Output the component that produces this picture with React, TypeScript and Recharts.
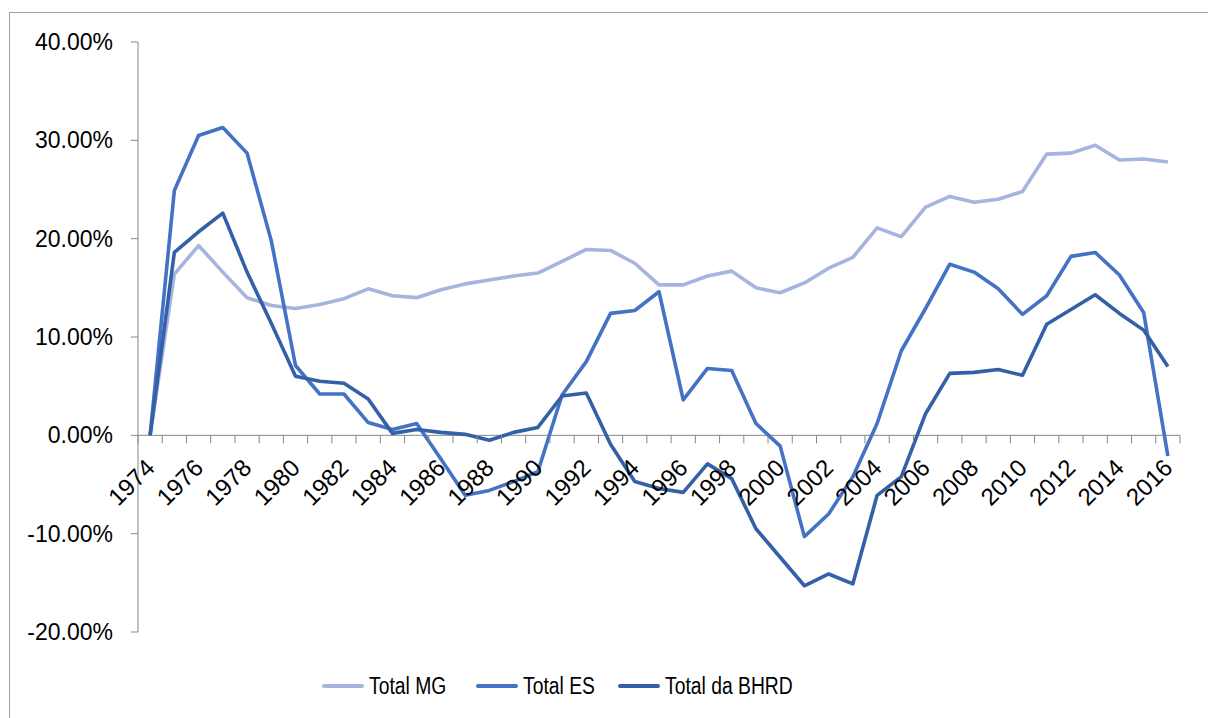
import { Line, LineChart, ReferenceLine, XAxis, YAxis } from "recharts";

const years = [
  "1974", "1975", "1976", "1977", "1978", "1979", "1980", "1981", "1982", "1983",
  "1984", "1985", "1986", "1987", "1988", "1989", "1990", "1991", "1992", "1993",
  "1994", "1995", "1996", "1997", "1998", "1999", "2000", "2001", "2002", "2003",
  "2004", "2005", "2006", "2007", "2008", "2009", "2010", "2011", "2012", "2013",
  "2014", "2015", "2016",
];

const totalMG = [
  0, 16.4, 19.3, 16.6, 14.0, 13.2, 12.9, 13.3, 13.9, 14.9, 14.2, 14.0, 14.8, 15.4, 15.8,
  16.2, 16.5, 17.7, 18.9, 18.8, 17.5, 15.3, 15.3, 16.2, 16.7, 15.0, 14.5, 15.5, 17.0,
  18.1, 21.1, 20.2, 23.2, 24.3, 23.7, 24.0, 24.8, 28.6, 28.7, 29.5, 28.0, 28.1, 27.8,
];

const totalES = [
  0, 24.9, 30.5, 31.3, 28.7, 19.8, 7.1, 4.2, 4.2, 1.3, 0.6, 1.2, -2.4, -6.1, -5.6,
  -4.7, -3.7, 4.1, 7.5, 12.4, 12.7, 14.6, 3.6, 6.8, 6.6, 1.2, -1.1, -10.3, -8.0,
  -4.2, 1.2, 8.6, 12.9, 17.4, 16.6, 14.9, 12.3, 14.2, 18.2, 18.6, 16.3, 12.5, -2.1,
];

const totalBHRD = [
  0, 18.6, 20.7, 22.6, 16.6, 11.4, 6.0, 5.5, 5.3, 3.7, 0.2, 0.6, 0.3, 0.1, -0.5,
  0.3, 0.8, 4.0, 4.3, -0.9, -4.7, -5.4, -5.8, -2.9, -4.4, -9.5, -12.4, -15.3, -14.1,
  -15.1, -6.1, -4.2, 2.2, 6.3, 6.4, 6.7, 6.1, 11.3, 12.8, 14.3, 12.4, 10.7, 7.0,
];

const yTicks = [-20, -10, 0, 10, 20, 30, 40];

const data = years.map((year, i) => ({
  year,
  mg: totalMG[i],
  es: totalES[i],
  bhrd: totalBHRD[i],
}));

// layout
const W = 1208;
const H = 718;
const PLOT_LEFT = 138;
const PLOT_RIGHT = 1180;
const PLOT_TOP = 42;
const PLOT_BOTTOM = 632;
const PLOT_W = PLOT_RIGHT - PLOT_LEFT;
const PLOT_H = PLOT_BOTTOM - PLOT_TOP;
const BAND = PLOT_W / years.length;
const Y_MIN = -20;
const Y_MAX = 40;
const ZERO_OFFSET = (PLOT_H * (0 - Y_MIN)) / (Y_MAX - Y_MIN);

const AXIS = "#868686";
const FONT = "'Liberation Sans', Arial, sans-serif";
const C_MG = "#A5B5E0";
const C_ES = "#4472C4";
const C_BHRD = "#3460A8";

function YearTick(props: any) {
  const { x, y, payload, index } = props;
  const zy = y - ZERO_OFFSET;
  const half = BAND / 2;
  const lx = x + 6;
  const ly = zy + 34;
  return (
    <g>
      {index === 0 && (
        <line x1={x - half} y1={zy} x2={x - half} y2={zy + 8} stroke={AXIS} />
      )}
      <line x1={x + half} y1={zy} x2={x + half} y2={zy + 8} stroke={AXIS} />
      {index % 2 === 0 && (
        <text
          x={lx}
          y={ly}
          textAnchor="end"
          transform={`rotate(-45 ${lx} ${ly})`}
          fontSize={24}
          fontFamily={FONT}
          fill="#000"
        >
          {payload.value}
        </text>
      )}
    </g>
  );
}

const legendItems = [
  { name: "Total MG", color: C_MG, left: 322 },
  { name: "Total ES", color: C_ES, left: 476 },
  { name: "Total da BHRD", color: C_BHRD, left: 618 },
];

export default function App() {
  return (
    <div
      style={{
        position: "absolute",
        left: 0,
        top: 0,
        width: W,
        height: H,
        overflow: "hidden",
        background: "#fff",
        fontFamily: FONT,
      }}
    >
      <div
        style={{
          position: "absolute",
          left: 9,
          top: 12,
          width: W + 40,
          height: H + 40,
          border: "1px solid #a0a0a0",
        }}
      />
      <div style={{ position: "absolute", left: 0, top: 0 }}>
        <LineChart
          width={W}
          height={H}
          data={data}
          margin={{ top: PLOT_TOP, right: W - PLOT_RIGHT, bottom: 0, left: 0 }}
        >
          <XAxis
            dataKey="year"
            scale="point"
            padding={{ left: BAND / 2, right: BAND / 2 }}
            height={H - PLOT_BOTTOM}
            interval={0}
            axisLine={false}
            tickLine={false}
            tickSize={0}
            tickMargin={0}
            tick={<YearTick />}
          />
          <YAxis
            width={PLOT_LEFT}
            domain={[Y_MIN, Y_MAX]}
            ticks={yTicks}
            interval={0}
            tickFormatter={(v: number) => v.toFixed(2) + "%"}
            axisLine={{ stroke: AXIS }}
            tickLine={{ stroke: AXIS }}
            tickSize={7}
            tickMargin={18}
            tick={{ fontSize: 23, fill: "#000", fontFamily: FONT }}
          />
          <ReferenceLine y={0} stroke={AXIS} strokeWidth={1} />
          <Line
            type="linear"
            dataKey="mg"
            stroke={C_MG}
            strokeWidth={3.6}
            strokeLinejoin="round"
            dot={false}
            isAnimationActive={false}
          />
          <Line
            type="linear"
            dataKey="es"
            stroke={C_ES}
            strokeWidth={3.6}
            strokeLinejoin="round"
            dot={false}
            isAnimationActive={false}
          />
          <Line
            type="linear"
            dataKey="bhrd"
            stroke={C_BHRD}
            strokeWidth={3.6}
            strokeLinejoin="round"
            dot={false}
            isAnimationActive={false}
          />
        </LineChart>
      </div>
      {legendItems.map((item) => (
        <div
          key={item.name}
          style={{
            position: "absolute",
            left: item.left,
            top: 672,
            height: 28,
            display: "flex",
            alignItems: "center",
            whiteSpace: "nowrap",
          }}
        >
          <span
            style={{
              display: "inline-block",
              width: 42,
              height: 4,
              borderRadius: 2,
              background: item.color,
              marginRight: 5,
            }}
          />
          <span
            style={{
              display: "inline-block",
              fontSize: 23,
              fontFamily: FONT,
              color: "#000",
              transform: "scaleX(0.84)",
              transformOrigin: "left center",
            }}
          >
            {item.name}
          </span>
        </div>
      ))}
    </div>
  );
}
